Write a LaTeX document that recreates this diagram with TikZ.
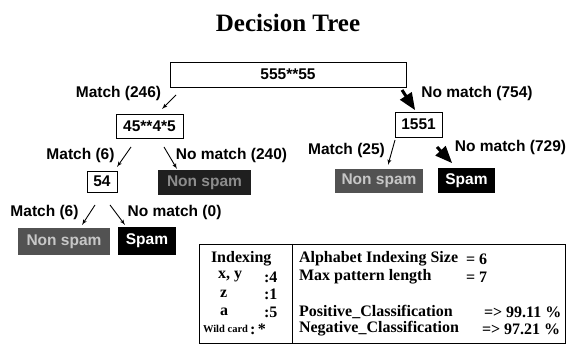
\documentclass[tikz,border=0pt]{standalone}
\usepackage{fontspec}
\setmainfont{Liberation Serif}
\setsansfont{Liberation Sans}
\usetikzlibrary{arrows,calc}
\newcommand{\treefont}{\sffamily\bfseries\fontsize{15.5}{18}\selectfont}
\newcommand{\tabfont}{\rmfamily\bfseries\fontsize{16}{18}\selectfont}
\newcommand{\wildfont}{\rmfamily\bfseries\fontsize{10.5}{12}\selectfont}
\begin{document}
\begin{tikzpicture}[x=1pt,y=-1pt]
\tikzstyle{every node}=[inner sep=0pt, outer sep=0pt]
\tikzstyle{patbox}=[draw, line width=.8pt, fill=white, font=\treefont]
\tikzstyle{nonspam}=[fill=black!68, text=black!22, font=\treefont]
\tikzstyle{darknonspam}=[fill=black!88, text=black!45, font=\treefont]
\tikzstyle{spamleaf}=[fill=black, text=white, font=\treefont]
\tikzstyle{branch}=[font=\treefont]
\tikzstyle{thinarrow}=[line width=.9pt, -latex']
\tikzstyle{thickarrow}=[line width=3pt, -triangle 45]
\tikzstyle{tabtext}=[anchor=west, font=\tabfont]
\useasboundingbox (0,0) rectangle (570,347);
\node (title) at (288,23) {\rmfamily\bfseries\fontsize{25}{30}\selectfont Decision Tree};
% pattern nodes
\node (root) [patbox, minimum width=236, minimum height=25] at (288,74.5) {555**55};
\node (p1) [patbox, minimum width=67, minimum height=24] at (149.5,126) {45**4*5};
\node (p2) [patbox, minimum width=47, minimum height=25] at (418.5,124.5) {1551};
\node (p3) [patbox, minimum width=30, minimum height=21] at (102,181.5) {54};
% leaves
\node (ns1) [darknonspam, minimum width=93, minimum height=25] at (204.5,182.5) {Non spam};
\node (ns2) [nonspam, minimum width=88, minimum height=24] at (379,181) {Non spam};
\node (sp1) [spamleaf, minimum width=57, minimum height=25] at (466.5,180.5) {Spam};
\node (ns3) [nonspam, minimum width=92, minimum height=27] at (64,241.5) {Non spam};
\node (sp2) [spamleaf, minimum width=58, minimum height=28] at (147,241) {Spam};
% branch labels
\node (m1) [branch] at (118.5,93) {Match (246)};
\node (n1) [branch] at (477,93) {No match (754)};
\node (m2) [branch] at (80.5,155) {Match (6)};
\node (n2) [branch] at (231.5,155) {No match (240)};
\node (m3) [branch] at (346.5,150) {Match (25)};
\node (n3) [branch] at (510.5,147) {No match (729)};
\node (m4) [branch] at (44.5,212) {Match (6)};
\node (n4) [branch] at (174.5,212) {No match (0)};
% arrows
\draw[thinarrow] ($(root.south west)+(6,8)$) -- ($(p1.north east)+(-21,-5)$);
\draw[thickarrow] ($(root.south east)+(-4,3)$) -- ($(p2.north)+(-3.5,-2)$);
\draw[thinarrow] ($(p1.south)+(-18.5,9)$) -- ($(p3.north east)+(0,-4)$);
\draw[thinarrow] ($(p1.south)+(14.5,9)$) -- ($(ns1.north west)+(19,-1)$);
\draw[thinarrow] ($(p2.south west)+(0,3)$) -- ($(ns2.north)+(9,-4)$);
\draw[thickarrow] ($(p2.south east)+(-5,10)$) -- ($(sp1.north west)+(14,-5)$);
\draw[thinarrow] ($(p3.south)+(-7,13)$) -- ($(ns3.north east)+(-28,-3)$);
\draw[thinarrow] ($(p3.south)+(8,13)$) -- ($(sp2.north west)+(7,-2)$);
% table
\node (legend) [draw, line width=.8pt, minimum width=366, minimum height=99] at (382,293.5) {};
\draw[line width=.8pt] ($(legend.north west)+(93,0)$) -- ($(legend.south west)+(93,0)$);
\node (t1) [tabtext] at (211,259) {Indexing};
\node (t2) [tabtext] at (218,277) {x, y};
\node (t3) [tabtext] at (220,294) {z};
\node (t4) [tabtext] at (220,312) {a};
\node (t5) [tabtext, font=\wildfont] at (203,329) {Wild card};
\node (v2) [tabtext] at (264,277) {:4};
\node (v3) [tabtext] at (264,294) {:1};
\node (v4) [tabtext] at (264,312) {:5};
\node (v5) [tabtext] at (250,329) {:\,*};
\node (r1) [tabtext] at (299,259) {Alphabet Indexing Size};
\node (r2) [tabtext] at (299,277) {Max pattern length};
\node (r3) [tabtext] at (299,312) {Positive\_Classification};
\node (r4) [tabtext] at (299,329) {Negative\_Classification};
\node (w1) [tabtext] at (466,259) {= 6};
\node (w2) [tabtext] at (466,277) {= 7};
\node (w3) [tabtext] at (484,312) {=> 99.11 \%};
\node (w4) [tabtext] at (482,329) {=> 97.21 \%};
\end{tikzpicture}
\end{document}
